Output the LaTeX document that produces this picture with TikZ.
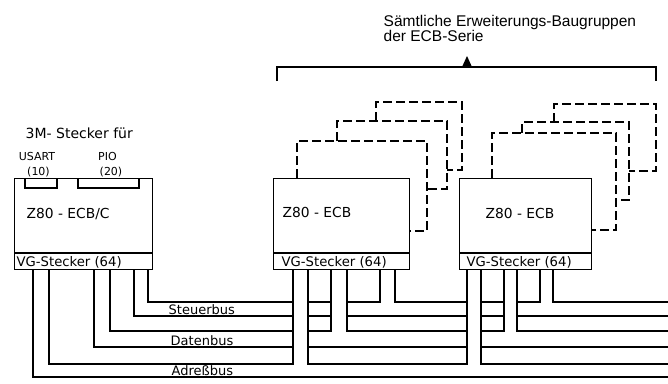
\documentclass[tikz,border=0pt]{standalone}
\usepackage{fontspec}
\setmainfont{DejaVu Sans}
\newfontfamily\titlefont{Liberation Sans}
\begin{document}
\begin{tikzpicture}[x=1pt,y=-1pt,line width=1.4pt,
  board/.style={draw,rectangle,inner sep=0pt,anchor=north west,minimum width=#1,minimum height=91pt},
  dbox/.style={line width=1.2pt,dash pattern=on 9pt off 4pt},
  boardlbl/.style={inner sep=0pt,anchor=base west,font=\fontsize{13.8}{14}\selectfont},
  vglbl/.style={inner sep=0pt,anchor=base west,font=\fontsize{13.2}{14}\selectfont},
  buslbl/.style={inner sep=0pt,anchor=base west,font=\fontsize{13}{14}\selectfont},
  smalllbl/.style={inner sep=0pt,anchor=base,font=\fontsize{11}{12}\selectfont}]
\fill[white] (0,0) rectangle (668,383);
\useasboundingbox (0,0) rectangle (668,383);

% title and bracket
\node[inner sep=0pt,anchor=north west,align=left,font=\titlefont\fontsize{15.5}{15.5}\selectfont]
  (title) at (383,14.5) {Sämtliche Erweiterungs-Baugruppen\\der ECB-Serie};
\coordinate (bl) at (277,81);
\coordinate (br) at (656,81);
\coordinate (apex) at (467,56);
\draw (bl) |- (br |- 0,67) -- (br);
\fill (apex) -- (462,67) -- (472,67) -- cycle;

% dashed boards behind middle board
\draw[dbox] (297,178) |- (427,141) |- (409,231);
\draw[dbox] (337,141) |- (447,121) |- (427,189);
\draw[dbox] (376,121) |- (462,102) |- (447,170);
% dashed boards behind right board
\draw[dbox] (492,178) |- (616,133) |- (591,230);
\draw[dbox] (522,133) |- (629,122) |- (616,200);
\draw[dbox] (554,122) |- (656,104) |- (629,171);

% boards
\node[board=138pt] (C) at (14,178) {};
\node[board=136pt] (M) at (273,178) {};
\node[board=132pt] (R) at (459,178) {};
\draw (C.west |- 0,253) -- (C.east |- 0,253);
\draw (M.west |- 0,253) -- (M.east |- 0,253);
\draw (R.west |- 0,253) -- (R.east |- 0,253);

\node[boardlbl] (Ct) at (26,218) {Z80 - ECB/C};
\node[boardlbl] (Mt) at (282,217) {Z80 - ECB};
\node[boardlbl] (Rt) at (485,218) {Z80 - ECB};
\node[vglbl] (Cv) at (16,266.5) {VG-Stecker (64)};
\node[vglbl] (Mv) at (281,266.5) {VG-Stecker (64)};
\node[vglbl] (Rv) at (466,266.5) {VG-Stecker (64)};

% 3M connectors
\draw (25,0 |- C.north) |- (57,188) -- (57,0 |- C.north);
\draw (78,0 |- C.north) |- (139,188) -- (139,0 |- C.north);
\node[inner sep=0pt,anchor=base west,font=\fontsize{14}{14}\selectfont] (m3) at (25,138) {3M- Stecker für};
\node[smalllbl] (us) at (37,160) {USART};
\node[smalllbl] (us2) at (38.5,175) {(10)};
\node[smalllbl] (pio) at (107.5,160) {PIO};
\node[smalllbl] (pio2) at (111,175) {(20)};

% Steuerbus inner (302)
\draw (148,0 |- C.south) |- (293,302);
\draw (308,302) -- (331,302);
\draw (347,302) -| (380,0 |- M.south);
\draw (395,0 |- M.south) |- (467,302);
\draw (481,302) -- (504,302);
\draw (517,302) -| (540,0 |- R.south);
\draw (553,0 |- R.south) |- (668,302);
% Steuerbus outer (316)
\draw (134,0 |- C.south) |- (293,316);
\draw (308,316) -- (331,316);
\draw (347,316) -- (467,316);
\draw (481,316) -- (504,316);
\draw (517,316) -- (668,316);
% Datenbus inner (331)
\draw (110,0 |- C.south) |- (293,331);
\draw (308,331) -| (331,0 |- M.south);
\draw (347,0 |- M.south) |- (467,331);
\draw (481,331) -| (504,0 |- R.south);
\draw (517,0 |- R.south) |- (668,331);
% Datenbus outer (347)
\draw (94,0 |- C.south) |- (293,347);
\draw (308,347) -- (467,347);
\draw (481,347) -- (668,347);
% Adressbus inner (364)
\draw (49,0 |- C.south) |- (293,364) -- (293,0 |- M.south);
\draw (308,0 |- M.south) |- (467,364) -- (467,0 |- R.south);
\draw (481,0 |- R.south) |- (668,364);
% Adressbus outer (377)
\draw (33,0 |- C.south) |- (668,377);

\node[buslbl] (sb) at (168,314.5) {Steuerbus};
\node[buslbl] (db) at (170,345) {Datenbus};
\node[buslbl] (ab) at (171,375.5) {Adreßbus};
\end{tikzpicture}
\end{document}
